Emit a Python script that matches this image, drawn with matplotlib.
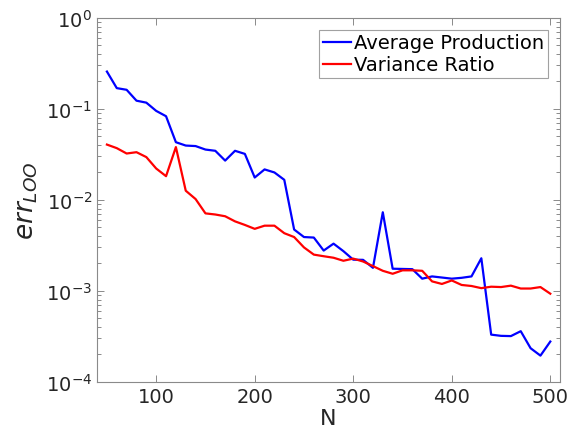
import numpy as np
import matplotlib.pyplot as plt

N = np.arange(50, 501, 10)

avg_prod = [0.257, 0.169, 0.162, 0.123, 0.117, 0.095, 0.083, 0.043, 0.0395, 0.039,
            0.0357, 0.0346, 0.027, 0.0346, 0.032, 0.0176, 0.0216, 0.020, 0.0166, 0.00472,
            0.0039, 0.00385, 0.00277, 0.0033, 0.00273, 0.0022, 0.00219, 0.00179, 0.0073, 0.00175,
            0.00174, 0.00173, 0.00136, 0.00144, 0.0014, 0.00136, 0.00139, 0.00144, 0.00228, 0.00033,
            0.00032, 0.000318, 0.00036, 0.000234, 0.000194, 0.000277]

var_ratio = [0.0405, 0.037, 0.0323, 0.0334, 0.0295, 0.0221, 0.0182, 0.038, 0.0126, 0.0102,
             0.0071, 0.0069, 0.0066, 0.0058, 0.0053, 0.0048, 0.0052, 0.0052, 0.0043, 0.0039,
             0.0030, 0.0025, 0.0024, 0.00231, 0.00214, 0.00226, 0.0021, 0.00187, 0.00166, 0.00154,
             0.00168, 0.00168, 0.00166, 0.00127, 0.00119, 0.0013, 0.00116, 0.00113, 0.00107, 0.00111,
             0.0011, 0.00114, 0.00106, 0.00106, 0.0011, 0.00093]

txt = '#262626'
edge = '#8a8a8a'

fig = plt.figure(figsize=(5.71, 4.39), dpi=100)
ax = fig.add_axes([0.170, 0.128, 0.811, 0.829])

ax.plot(N, avg_prod, color='#0000ff', lw=1.6, label='Average Production')
ax.plot(N, var_ratio, color='#ff0000', lw=1.6, label='Variance Ratio')

ax.set_yscale('log')
ax.set_xlim(40, 510)
ax.set_ylim(1e-4, 1)
ax.set_xticks([100, 200, 300, 400, 500])
ax.set_yticks([1e-4, 1e-3, 1e-2, 1e-1, 1])

ax.tick_params(which='both', direction='in', top=True, right=True, colors=edge, labelcolor=txt,
               labelsize=14, width=0.7)
ax.tick_params(which='major', length=5)
ax.tick_params(which='minor', length=3)
for s in ax.spines.values():
    s.set_color(edge)
    s.set_linewidth(0.8)

ax.set_xlabel('N', fontsize=16, color=txt, labelpad=2)
ax.set_ylabel('$err_{LOO}$', fontsize=19, color=txt, labelpad=4)

leg = ax.legend(loc='upper right', fontsize=14, frameon=True, fancybox=False,
                edgecolor=edge, handlelength=1.4, handletextpad=0.2, borderpad=0.2,
                labelspacing=0.15, borderaxespad=0.6)
leg.get_frame().set_linewidth(0.8)
for t in leg.get_texts():
    t.set_color('black')

fig.savefig('out.png', dpi=100)
